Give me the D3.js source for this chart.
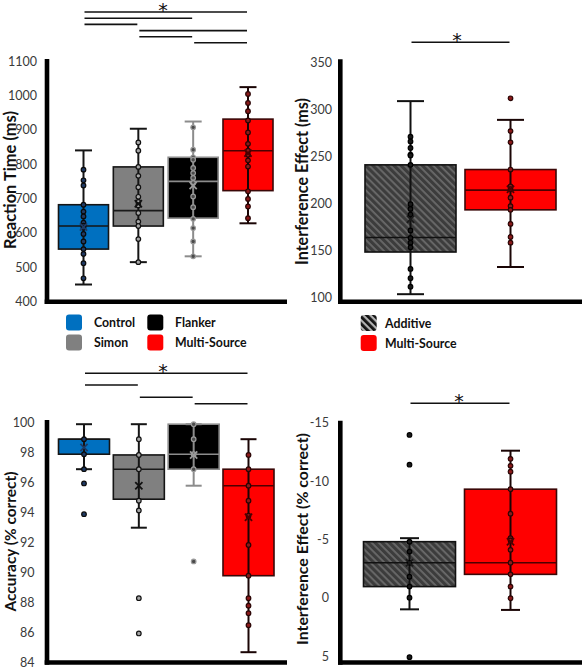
<!DOCTYPE html>
<html><head><meta charset="utf-8">
<script src="https://cdn.jsdelivr.net/npm/d3@7"></script>
<style>body{margin:0;background:#fff}svg{display:block}</style>
</head><body>
<svg id="c" width="583" height="669"></svg>
<script>
// ---------- DATA ----------
const rtCategories = ["Control", "Simon", "Flanker", "Multi-Source"];
const rtTicks = [400, 500, 600, 700, 800, 900, 1000, 1100];
const rtMin = [450, 515, 532, 628];
const rtQ1 = [553, 620, 643, 723];
const rtMedian = [620, 665, 750, 839];
const rtQ3 = [682, 792, 820, 931];
const rtMax = [840, 903, 924, 1024];
const rtMean = [617, 685, 738, 832];
const rtPoints = [
  [784, 753, 738, 682, 662, 648, 630, 621, 615, 597, 575, 553, 539, 512, 468],
  [863, 839, 792, 766, 733, 705, 690, 680, 658, 633, 620, 582, 515],
  [907, 842, 820, 813, 789, 774, 760, 745, 706, 675, 641, 614, 575, 532],
  [1004, 978, 954, 927, 892, 859, 839, 827, 811, 793, 721, 699, 677, 643]
];
const rtSigPairs = [[0, 3], [0, 2], [0, 1], [1, 3], [1, 2], [2, 3]];

const ieCategories = ["Additive", "Multi-Source"];
const ieTicks = [100, 150, 200, 250, 300, 350];
const ieMin = [103, 132];
const ieQ1 = [148, 193];
const ieMedian = [163.5, 214];
const ieQ3 = [241, 236];
const ieMax = [309, 289];
const ieMean = [183, 215];
const iePoints = [
  [271, 266, 259, 252, 251, 241, 199, 194, 188, 171, 163, 158, 153, 130, 120, 111],
  [312, 277, 265, 236, 218, 215, 206, 197, 193, 178, 164, 158]
];
const ieSigPairs = [[0, 1]];

const accCategories = ["Control", "Simon", "Flanker", "Multi-Source"];
const accTicks = [84, 86, 88, 90, 92, 94, 96, 98, 100];
const accMin = [96.9, 93.0, 95.8, 84.7];
const accQ1 = [97.9, 94.9, 96.9, 89.8];
const accMedian = [98.9, 96.9, 97.9, 95.8];
const accQ3 = [98.9, 97.85, 99.9, 96.9];
const accMax = [99.9, 99.9, 99.9, 98.9];
const accMean = [98.35, 95.8, 97.85, 93.7];
const accPoints = [
  [98.9, 97.9, 96.9, 95.95, 93.9],
  [98.9, 97.85, 96.9, 94.8, 94.15, 88.3, 85.95],
  [99.9, 98.9, 97.9, 96.9, 90.75],
  [97.85, 96.9, 95.8, 94.8, 93.8, 91.85, 89.8, 88.3, 87.8, 87.3, 86.5]
];
const accSigPairs = [[0, 3], [0, 1], [1, 2], [2, 3]];

const aieCategories = ["Additive", "Multi-Source"];
const aieTicks = [-15, -10, -5, 0, 5];
const aieMin = [1.0, 1.05];
const aieQ1 = [-0.95, -2.0];
const aieMedian = [-3.0, -3.0];
const aieQ3 = [-4.8, -9.3];
const aieMax = [-5.1, -12.6];
const aieMean = [-3.0, -4.8];
const aiePoints = [
  [-13.95, -11.4, -4.8, -3.95, -3.0, -1.8, -0.95, 0.0, 5.1],
  [-11.9, -11.3, -10.8, -9.3, -7.2, -5.1, -4.9, -4.1, -3.0, -2.0, -0.95, 0.05]
];
const aieSigPairs = [[0, 1]];

const legendLeft = ["Control", "Simon", "Flanker", "Multi-Source"];
const legendRight = ["Additive", "Multi-Source"];

// ---------- STYLES ----------
const FONT = "Lato, 'Open Sans', sans-serif";
const styleControl = {fill: "#0070c0", stroke: "#151515", line: "#151515", median: "#151515", ptFill: "#1f3a64", ptStroke: "#0a0a0a", mean: "#1f3a64"};
const styleSimon = {fill: "#808080", stroke: "#151515", line: "#151515", median: "#1a1a1a", ptFill: "#a6a6a6", ptStroke: "#111", mean: "#111"};
const styleFlanker = {fill: "#000000", stroke: "#8c8c8c", line: "#8c8c8c", median: "#8c8c8c", ptFill: "#4a4a4a", ptStroke: "#9a9a9a", mean: "#9a9a9a"};
const styleMS = {fill: "#ff0000", stroke: "#3a0808", line: "#1a0505", median: "#4d0000", ptFill: "#8b1a1a", ptStroke: "#2a0505", mean: "#4d0000"};
const styleAdd = {fill: "url(#hatch)", stroke: "#111", line: "#111", median: "#111", ptFill: "#1a1a1a", ptStroke: "#000", mean: "#1a1a1a"};
const legendColors = {"Control": "#0070c0", "Simon": "#808080", "Flanker": "#000000", "Multi-Source": "#ff0000", "Additive": "url(#hatchLegend)"};

const svg = d3.select("#c");
const defs = svg.append("defs");
const hp = defs.append("pattern").attr("id", "hatch").attr("patternUnits", "userSpaceOnUse")
  .attr("width", 5).attr("height", 5).attr("patternTransform", "rotate(45)");
hp.append("rect").attr("width", 5).attr("height", 5).attr("fill", "#3c3c3c");
hp.append("rect").attr("width", 5).attr("height", 1.8).attr("fill", "#6a6a6a");
const hl = defs.append("pattern").attr("id", "hatchLegend").attr("patternUnits", "userSpaceOnUse")
  .attr("width", 5).attr("height", 5).attr("patternTransform", "rotate(45)");
hl.append("rect").attr("width", 5).attr("height", 5).attr("fill", "#111");
hl.append("rect").attr("width", 5).attr("height", 2.2).attr("fill", "#b5b5b5");

function fitText(sel, target) {
  const L = sel.node().getComputedTextLength();
  const fs = parseFloat(sel.attr("font-size"));
  if (L > 0) sel.attr("font-size", (fs * target / L).toFixed(2));
}

function drawPanel(p) {
  const g = svg.append("g");
  const y = d3.scaleLinear().domain(p.domain).range(p.range);
  const x = d3.scalePoint().domain(p.cats).range(p.xr);
  // tick labels
  const ax = d3.axisLeft(y).tickValues(p.ticks).tickSize(0).tickPadding(0).tickFormat(d => String(d));
  const ag = g.append("g").attr("transform", `translate(${p.tickX},0)`).call(ax);
  ag.select(".domain").remove();
  ag.selectAll("text").attr("font-family", FONT).attr("font-size", 12.5).attr("fill", "#3a3a3a");
  // axes lines
  g.append("line").attr("x1", p.axX).attr("x2", p.axX).attr("y1", p.axTop).attr("y2", p.axBottom + 2.3)
    .attr("stroke", "#000").attr("stroke-width", 4.6);
  g.append("line").attr("x1", p.axX - 2.3).attr("x2", p.axRight).attr("y1", p.axBottom).attr("y2", p.axBottom)
    .attr("stroke", "#000").attr("stroke-width", 4.6);
  // boxes
  p.cats.forEach((c, i) => {
    const st = p.styles[i];
    const cx = x(c);
    const yq1 = y(p.q1[i]), yq3 = y(p.q3[i]);
    g.append("rect").attr("x", cx - p.bw / 2).attr("y", Math.min(yq1, yq3)).attr("width", p.bw)
      .attr("height", Math.abs(yq1 - yq3)).attr("fill", st.fill).attr("stroke", st.stroke).attr("stroke-width", 1.6);
    g.append("line").attr("x1", cx).attr("x2", cx).attr("y1", y(p.max[i])).attr("y2", y(p.min[i]))
      .attr("stroke", st.line).attr("stroke-width", 2);
    [p.max[i], p.min[i]].forEach(v => {
      g.append("line").attr("x1", cx - p.cap / 2).attr("x2", cx + p.cap / 2).attr("y1", y(v)).attr("y2", y(v))
        .attr("stroke", st.line).attr("stroke-width", 2);
    });
    g.append("line").attr("x1", cx - p.bw / 2).attr("x2", cx + p.bw / 2).attr("y1", y(p.med[i])).attr("y2", y(p.med[i]))
      .attr("stroke", st.median).attr("stroke-width", 1.6);
    g.selectAll(null).data(p.pts[i]).enter().append("circle")
      .attr("cx", cx).attr("cy", d => y(d)).attr("r", 2.3)
      .attr("fill", st.ptFill).attr("stroke", st.ptStroke).attr("stroke-width", 1.2);
    const my = y(p.mean[i]), s = 3.6;
    g.append("path").attr("d", `M${cx - s},${my - s}L${cx + s},${my + s}M${cx - s},${my + s}L${cx + s},${my - s}`)
      .attr("stroke", st.mean).attr("stroke-width", 1.8).attr("fill", "none");
  });
  // significance lines
  p.sig.forEach((pr, k) => {
    g.append("line").attr("x1", x(p.cats[pr[0]]) + 1).attr("x2", x(p.cats[pr[1]]) - 1)
      .attr("y1", p.sigY[k]).attr("y2", p.sigY[k]).attr("stroke", "#111").attr("stroke-width", 1.6);
  });
  g.append("text").attr("x", p.starX).attr("y", p.sigY[0] + 5).attr("text-anchor", "middle")
    .attr("font-family", "'DejaVu Sans', sans-serif").attr("font-size", 19).attr("fill", "#111").text("*");
  // y title
  const t = g.append("text").attr("transform", `translate(${p.titleX},${p.titleY}) rotate(-90)`)
    .attr("text-anchor", "middle").attr("font-family", FONT).attr("font-weight", "bold")
    .attr("font-size", 15).attr("fill", "#111").text(p.title);
  fitText(t, p.titleLen);
}

drawPanel({cats: rtCategories, domain: [400, 1100], range: [301.7, 61], xr: [83.5, 248], bw: 50, cap: 17,
  ticks: rtTicks, tickX: 37, axX: 47, axTop: 59, axBottom: 301.7, axRight: 287,
  q1: rtQ1, q3: rtQ3, med: rtMedian, min: rtMin, max: rtMax, mean: rtMean, pts: rtPoints,
  styles: [styleControl, styleSimon, styleFlanker, styleMS],
  sig: rtSigPairs, sigY: [12, 18.3, 24.4, 30.6, 36.7, 42.8], starX: 163,
  title: "Reaction Time (ms)", titleX: 15.5, titleY: 180, titleLen: 138});

drawPanel({cats: ieCategories, domain: [100, 350], range: [297, 62.7], xr: [410.5, 510.5], bw: 91, cap: 27,
  ticks: ieTicks, tickX: 332, axX: 340.3, axTop: 59.3, axBottom: 301.7, axRight: 582,
  q1: ieQ1, q3: ieQ3, med: ieMedian, min: ieMin, max: ieMax, mean: ieMean, pts: iePoints,
  styles: [styleAdd, styleMS],
  sig: ieSigPairs, sigY: [42.3], starX: 457,
  title: "Interference Effect (ms)", titleX: 308, titleY: 181.5, titleLen: 167});

drawPanel({cats: accCategories, domain: [84, 100], range: [662.7, 422.7], xr: [84, 248.5], bw: 51, cap: 16,
  ticks: accTicks, tickX: 34.5, axX: 47, axTop: 420, axBottom: 662.5, axRight: 287,
  q1: accQ1, q3: accQ3, med: accMedian, min: accMin, max: accMax, mean: accMean, pts: accPoints,
  styles: [styleControl, styleSimon, styleFlanker, styleMS],
  sig: accSigPairs, sigY: [373.3, 385, 397.3, 403.7], starX: 163,
  title: "Accuracy (% correct)", titleX: 16, titleY: 541.5, titleLen: 140});

drawPanel({cats: aieCategories, domain: [-15, 5], range: [422.7, 656], xr: [409.5, 510.5], bw: 92, cap: 19,
  ticks: aieTicks, tickX: 329, axX: 340.3, axTop: 420.7, axBottom: 662.5, axRight: 582,
  q1: aieQ1, q3: aieQ3, med: aieMedian, min: aieMin, max: aieMax, mean: aieMean, pts: aiePoints,
  styles: [styleAdd, styleMS],
  sig: aieSigPairs, sigY: [403.3], starX: 459,
  title: "Interference Effect (% correct)", titleX: 308, titleY: 539, titleLen: 212});

// ---------- LEGENDS ----------
function legend(items, cols, rowYs, swX, txX) {
  const g = svg.append("g");
  const texts = [];
  items.forEach((name, i) => {
    const col = cols[i], row = i % 2;
    g.append("rect").attr("x", swX[col]).attr("y", rowYs[row]).attr("width", 16).attr("height", 16)
      .attr("rx", 3).attr("fill", legendColors[name]);
    texts.push(g.append("text").attr("x", txX[col]).attr("y", rowYs[row] + 12.5)
      .attr("font-family", FONT).attr("font-weight", "bold").attr("font-size", 14).attr("fill", "#111").text(name));
  });
  return texts;
}
const lt = legend(legendLeft, [0, 0, 1, 1], [314.5, 334.5], [66, 147.3], [94, 175]);
const rt = legend(legendRight, [0, 0], [315, 335], [360.7], [385]);
// fit font size using the Multi-Source label width
const ms = lt[3];
const L = ms.node().getComputedTextLength();
const fs = 14 * 71.7 / L;
lt.concat(rt).forEach(t => t.attr("font-size", fs.toFixed(2)));
</script>
</body></html>
